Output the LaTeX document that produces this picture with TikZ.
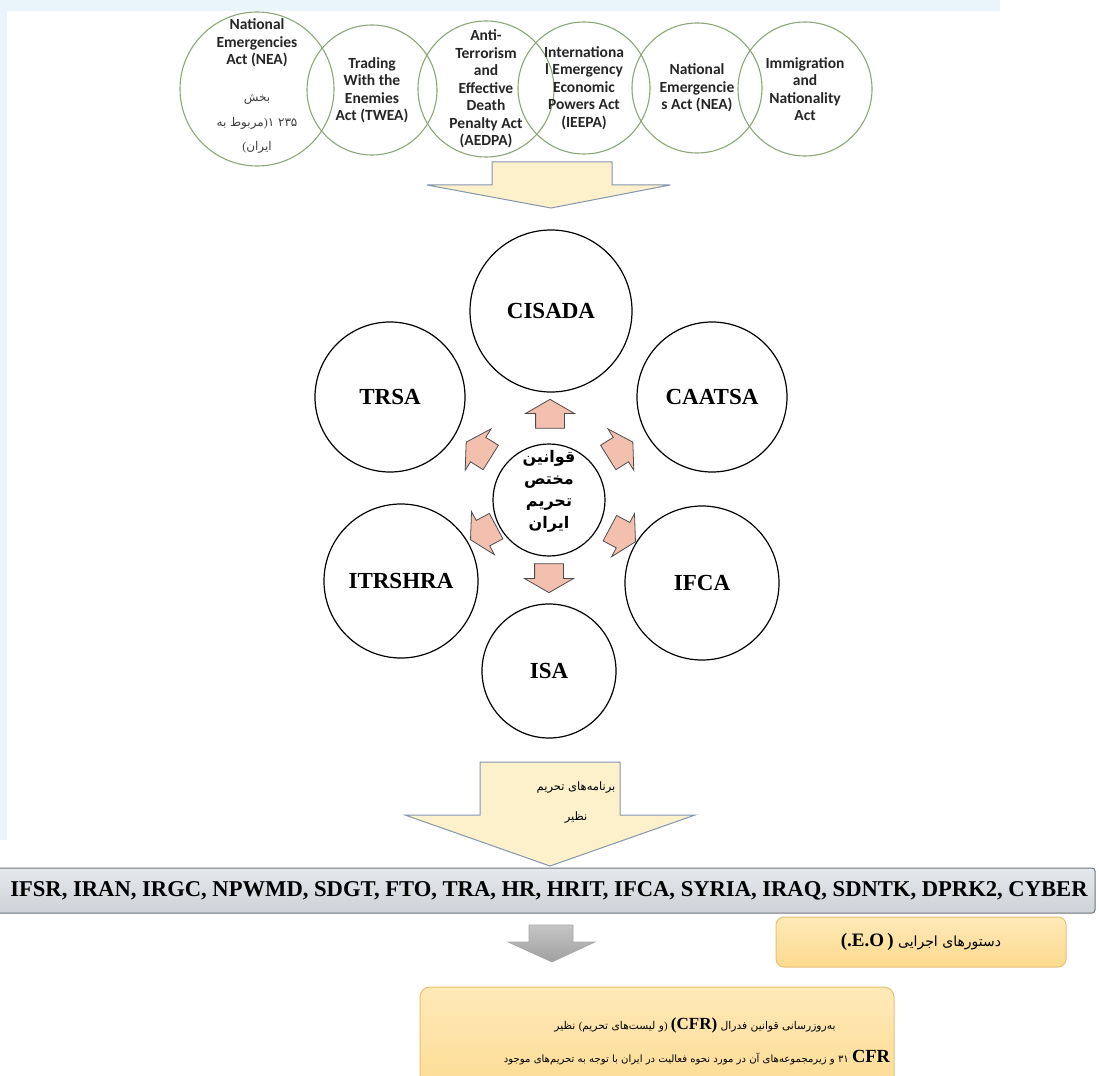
\documentclass[tikz,border=0pt]{standalone}
\usepackage{fontspec}
\setmainfont{Liberation Serif}
\newfontfamily\calibri{Carlito}
\newfontfamily\farsi[Script=Arabic]{DejaVu Sans}
\TeXXeTstate=1
\usetikzlibrary{shapes.arrows,positioning}
\definecolor{actgreen}{HTML}{8FA67A}
\definecolor{arrowyellow}{HTML}{FDF1CC}
\definecolor{arrowedge}{HTML}{8496AE}
\definecolor{pinkfill}{HTML}{F3C0B0}
\definecolor{eofill}{HTML}{FDDA8E}
\definecolor{eotop}{HTML}{FEE9B8}
\definecolor{eoedge}{HTML}{E9C072}
\definecolor{bartop}{HTML}{E6E9EC}
\definecolor{barbottom}{HTML}{CDD2D8}
\definecolor{baredge}{HTML}{6E747A}
\definecolor{watermark}{HTML}{EAF4FB}
\tikzset{
    actcircle/.style={
    circle,draw=actgreen,line width=1.1pt,inner sep=0pt
    },
    acttext/.style={
    align=center,font=\calibri\bfseries\fontsize{15.5}{17.5}\selectfont,text=black!85
    },
    farsitext/.style={
    font=\farsi\fontsize{12}{14}\selectfont,text=black!75
    },
    cfrtext/.style={
    font=\farsi\fontsize{10.7}{13}\selectfont
    },
    lawcircle/.style={
    circle,draw=black,line width=1.2pt,fill=white,inner sep=0pt
    },
    lawtext/.style={
    font=\bfseries\fontsize{23}{26}\selectfont
    },
    outarrow/.style={
    single arrow,draw=black!70,line width=0.8pt,fill=pinkfill,
    minimum height=29pt,inner xsep=0pt,inner ysep=14pt,
    single arrow head extend=10pt,single arrow tip angle=120
    },
    bigarrow/.style={
    draw=arrowedge,line width=1pt,fill=arrowyellow
    },
    eobox/.style={
    rectangle,rounded corners=8pt,draw=eoedge,line width=1pt,
    top color=eotop,bottom color=eofill
    },
}
\newcommand{\latinbold}[1]{{\rmfamily\bfseries\fontsize{17}{18}\selectfont#1}}

\begin{document}
\begin{tikzpicture}[x=1pt,y=-1pt]
  \clip (0,0) rectangle (1099,1075);
  \fill[white] (0,0) rectangle (1099,1075);
  \fill[watermark] (0,0) rectangle (1000,11);
  \fill[watermark] (0,0) rectangle (7,840);

  % acts behind the sanctions laws
  \node[actcircle,minimum size=154pt] (nea) at (257,89) {};
  \node[actcircle,minimum size=130pt] (twea) at (372,90) {};
  \node[actcircle,minimum size=136pt] (aedpa) at (486,89) {};
  \node[actcircle,minimum size=132pt] (ieepa) at (584,88) {};
  \node[actcircle,minimum size=130pt] (neab) at (697,88) {};
  \node[actcircle,minimum size=134pt] (ina) at (805,89) {};

  \node[acttext] (neatxt) at (257,43) {National\\Emergencies\\Act (NEA)};
  \node[farsitext] (neafa) at (257,99) {بخش};
  \node[farsitext] (neafb) at (257,123)
    {\beginR ۲۳۵ ۱{\rmfamily)}مربوط به\endR};
  \node[farsitext] (neafc) at (257,147) {\beginR ایران{\rmfamily(}\endR};
  \node[acttext] at (twea) {Trading\\With the\\Enemies\\Act (TWEA)};
  \node[acttext] at (aedpa) {Anti-\\Terrorism\\and\\Effective\\Death\\Penalty Act\\(AEDPA)};
  \node[acttext] at (ieepa) {Internationa\\l Emergency\\Economic\\Powers Act\\(IEEPA)};
  \node[acttext] at (neab) {National\\Emergencie\\s Act (NEA)};
  \node[acttext] at (ina) {Immigration\\and\\Nationality\\Act};

  % first big arrow
  \draw[bigarrow] (492,162) -- (612,162) -- (612,185) -- (670,185)
    -- (551,208) -- (427,185) -- (492,185) -- cycle;

  % Iran sanctions laws
  \node[lawcircle,minimum size=162pt] (cisada) at (551,311) {};
  \node[lawcircle,minimum size=150pt] (trsa) at (390,397) {};
  \node[lawcircle,minimum size=150pt] (caatsa) at (712,397) {};
  \node[lawcircle,minimum size=154pt] (itrshra) at (401,581) {};
  \node[lawcircle,minimum size=154pt] (ifca) at (702,583) {};
  \node[lawcircle,minimum size=134pt] (isa) at (549,671) {};
  \node[lawcircle,minimum size=112pt] (core) at (549,500) {};

  \node[lawtext] at (cisada) {CISADA};
  \node[lawtext] at (trsa) {TRSA};
  \node[lawtext] at (caatsa) {CAATSA};
  \node[lawtext] at (itrshra) {ITRSHRA};
  \node[lawtext] at (ifca) {IFCA};
  \node[lawtext] at (isa) {ISA};
  \node[align=center,font=\farsi\bfseries\fontsize{16}{22}\selectfont] (coretxt) at (549,491)
    {قوانین\\مختص\\تحریم\\ایران};

  \node[outarrow,rotate=90] (aup) at (550,418) {};
  \node[outarrow,rotate=148] (aul) at (482,452) {};
  \node[outarrow,rotate=32] (aur) at (617,452) {};
  \node[outarrow,rotate=208] (adl) at (487,531) {};
  \node[outarrow,rotate=-28] (adr) at (619,533) {};
  \node[outarrow,rotate=-90] (adn) at (549,574) {};

  % second big arrow
  \draw[bigarrow] (480,762) -- (620,762) -- (620,815) -- (695,815)
    -- (550,866) -- (405,815) -- (480,815) -- cycle;
  \node[farsitext,font=\farsi\fontsize{11.5}{14}\selectfont,text=black] (proga) at (576,788)
    {\beginR برنامه‌های تحریم\endR};
  \node[farsitext,font=\farsi\fontsize{11.5}{14}\selectfont,text=black] (progb) at (576,818) {نظیر};

  % programmes bar
  \draw[rounded corners=3pt,draw=baredge,line width=1pt,top color=bartop,bottom color=barbottom]
    (-3,868) rectangle (1095,913);
  \node[font=\bfseries\fontsize{22.6}{25}\selectfont] (progs) at (549,891)
    {IFSR, IRAN, IRGC, NPWMD, SDGT, FTO, TRA, HR, HRIT, IFCA, SYRIA, IRAQ, SDNTK, DPRK2, CYBER};

  % grey arrow
  \draw[draw=gray!70,line width=0.6pt,top color=gray!45,bottom color=gray!75] (529,925) -- (573,925)
    -- (573,942) -- (595,942) -- (552,962) -- (508,942) -- (529,942) -- cycle;

  \node[eobox,minimum width=290pt,minimum height=50pt] (eo) at (921,942)
    {\farsi\fontsize{14}{16}\selectfont\beginR دستورهای اجرایی
     \beginL{\bfseries\rmfamily\fontsize{19}{22}\selectfont(.E.O\,)}\endL\endR};

  % CFR box
  \draw[rounded corners=10pt,draw=eoedge,line width=1pt,top color=eotop,bottom color=eofill]
    (420,987) rectangle (894,1110);
  \node[cfrtext] (cfra) at (695,1025)
    {\beginR به‌روزرسانی قوانین فدرال \beginL\latinbold{(CFR)}\endL{}
     {\rmfamily)}و لیست‌های تحریم{\rmfamily(} نظیر\endR};
  \node[cfrtext,font=\farsi\fontsize{10.1}{13}\selectfont] (cfrb) at (697,1058)
    {\beginR\beginL ۳۱ {\rmfamily\bfseries\fontsize{18.5}{19}\selectfont CFR}\endL{} و زیرمجموعه‌های آن در مورد نحوه فعالیت در ایران با توجه به تحریم‌های موجود\endR};
\end{tikzpicture}
\end{document}
